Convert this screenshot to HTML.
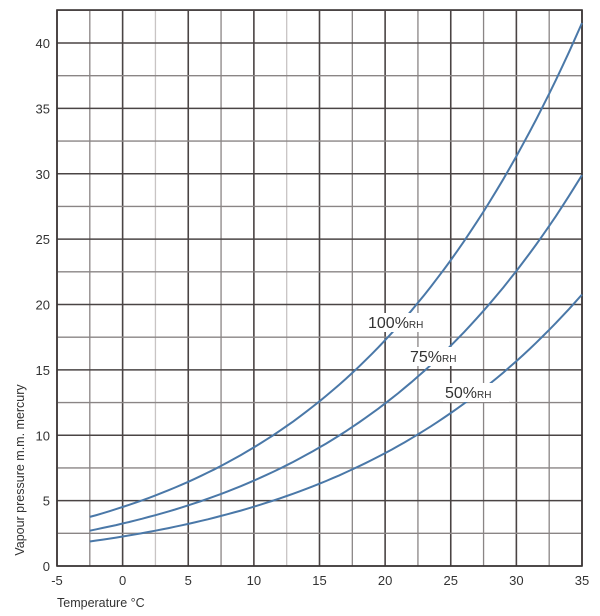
<!DOCTYPE html>
<html><head><meta charset="utf-8"><style>
html,body{margin:0;padding:0;background:#fff;width:600px;height:616px;overflow:hidden}
svg{display:block;font-family:"Liberation Sans",sans-serif}
</style></head><body>
<svg id="s" width="600" height="616" xmlns="http://www.w3.org/2000/svg"></svg>
<script>
var s=document.getElementById('s');
var X0=57,XS=525/40,Y0=566,YS=523/40,TOP=10;
function px(t){return X0+(t+5)*XS}function py(v){return Y0-v*YS}
var h='';
for(var i=0;i<=16;i++){var t=-5+i*2.5,x=px(t);var major=(i%2==0);
 var c=major?'#4a4444':'#8a8585'; if(!major&&(i==3||i==7))c='#c8c4c4';
 h+='<line x1="'+x+'" y1="'+TOP+'" x2="'+x+'" y2="'+Y0+'" stroke="'+c+'" stroke-width="'+(major?1.6:1.3)+'"/>';}
for(var v=0;v<=42.5;v+=2.5){var y=py(v);var major=(v%5==0);
 h+='<line x1="'+X0+'" y1="'+y+'" x2="582" y2="'+y+'" stroke="'+(major?'#4a4444':'#8a8585')+'" stroke-width="'+(major?1.6:1.3)+'"/>';}
h+='<rect x="'+X0+'" y="'+TOP+'" width="525" height="'+(Y0-TOP)+'" fill="none" stroke="#3a3434" stroke-width="1.6"/>';
[1,0.72,0.5].forEach(function(f){var d='';
 for(var t=-2.5;t<=35.001;t+=0.5){var p=4.58*Math.exp(17.27*t/(t+237.3))*f*0.985;
  d+=(d?'L':'M')+px(t).toFixed(1)+','+py(p).toFixed(1);}
 h+='<path d="'+d+'" fill="none" stroke="#4a78a8" stroke-width="2"/>';});
for(var t=-5;t<=35;t+=5)h+='<text x="'+px(t)+'" y="585" font-size="13" text-anchor="middle" fill="#333">'+t+'</text>';
for(var v=0;v<=40;v+=5)h+='<text x="50" y="'+(py(v)+5)+'" font-size="13" text-anchor="end" fill="#333">'+v+'</text>';
h+='<text x="57" y="607" font-size="12.5" fill="#333">Temperature °C</text>';
h+='<text transform="translate(24,470) rotate(-90)" font-size="12.5" text-anchor="middle" fill="#333">Vapour pressure m.m. mercury</text>';
function lab(x,y,a){return '<rect x="'+(x-2)+'" y="'+(y-15)+'" width="'+(a=='100%'?76:66)+'" height="19" fill="#fff"/><text x="'+x+'" y="'+y+'" font-size="16" fill="#333">'+a+'<tspan font-size="10">RH</tspan></text>';}
h+=lab(368,328,'100%')+lab(410,362,'75%')+lab(445,398,'50%');
s.innerHTML=h;
</script>
</body></html>
